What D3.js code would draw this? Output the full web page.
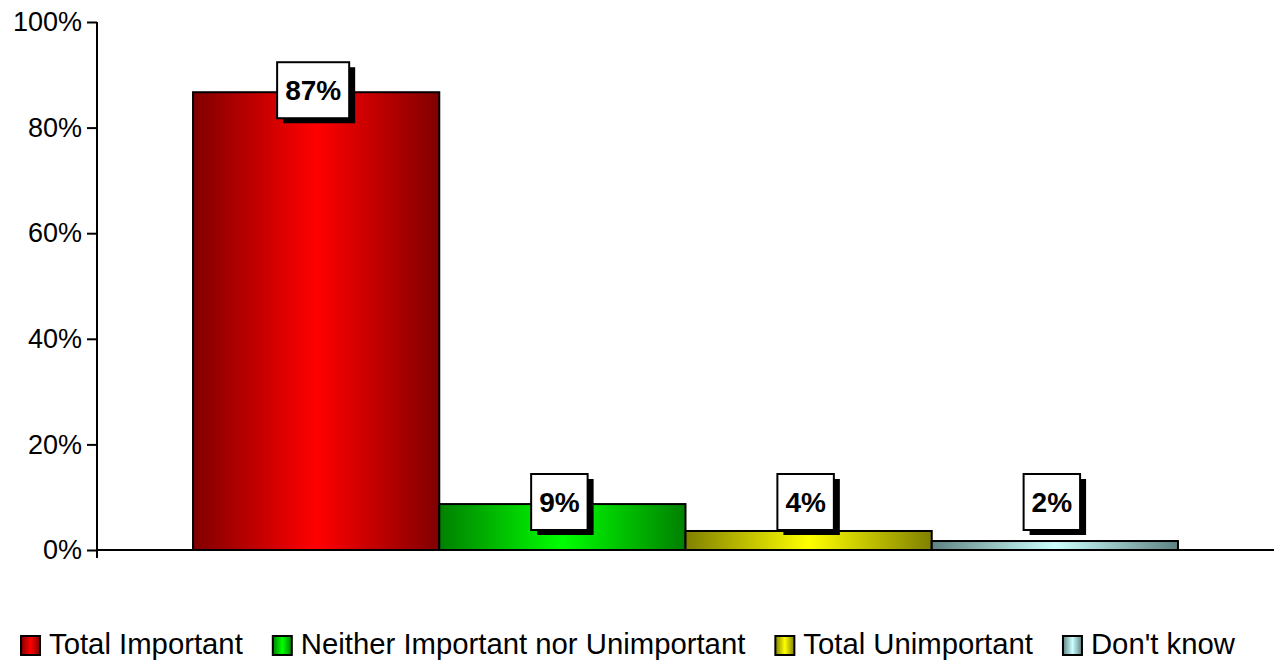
<!DOCTYPE html>
<html>
<head>
<meta charset="utf-8">
<script src="https://cdn.jsdelivr.net/npm/d3@7/dist/d3.min.js"></script>
<style>
  html, body { margin: 0; padding: 0; background: #fff; }
  svg { display: block; font-family: "Liberation Sans", Arial, sans-serif; }
</style>
</head>
<body>
<svg id="chart" width="1276" height="661"></svg>
<script>
const series = ["Total Important", "Neither Important nor Unimportant", "Total Unimportant", "Don't know"];
const values = [0.867, 0.087, 0.036, 0.017];
const yTicks = [0, 0.2, 0.4, 0.6, 0.8, 1.0];
const edgeColors = ["#800000", "#008000", "#808000", "#5f8282"];
const centerColors = ["#ff0000", "#00ff00", "#ffff00", "#ccffff"];

const svg = d3.select("#chart");
const plot = { left: 97, right: 1274, top: 22, bottom: 550 };

const x = d3.scaleBand().domain(series).range([plot.left, plot.right]).paddingInner(0).paddingOuter(0.39);
const y = d3.scaleLinear().domain([0, 1]).range([plot.bottom, plot.top]);

const defs = svg.append("defs");
series.forEach((s, i) => {
  const g = defs.append("linearGradient").attr("id", "grad" + i)
    .attr("x1", "0%").attr("x2", "100%").attr("y1", "0%").attr("y2", "0%");
  g.append("stop").attr("offset", "0%").attr("stop-color", edgeColors[i]);
  g.append("stop").attr("offset", "50%").attr("stop-color", centerColors[i]);
  g.append("stop").attr("offset", "100%").attr("stop-color", edgeColors[i]);
});

// Bars
svg.append("g").selectAll("rect").data(series).join("rect")
  .attr("x", d => x(d))
  .attr("y", (d, i) => y(values[i]))
  .attr("width", x.bandwidth())
  .attr("height", (d, i) => y(0) - y(values[i]))
  .attr("fill", (d, i) => `url(#grad${i})`)
  .attr("stroke", "#000")
  .attr("stroke-width", 2);

// Axes
const yAxis = d3.axisLeft(y).tickValues(yTicks).tickFormat(d3.format(".0%")).tickSize(10).tickPadding(5);
const ya = svg.append("g").attr("transform", `translate(${plot.left},0)`).call(yAxis);
ya.select(".domain").remove();
ya.selectAll(".tick line").attr("stroke", "#000").attr("stroke-width", 2);
ya.selectAll(".tick text").attr("font-size", 27).attr("fill", "#000")
  .attr("font-family", "'Liberation Sans', Arial, sans-serif");

svg.append("line").attr("x1", plot.left).attr("x2", plot.left)
  .attr("y1", plot.top).attr("y2", plot.bottom + 8)
  .attr("stroke", "#000").attr("stroke-width", 2);
svg.append("line").attr("x1", plot.left).attr("x2", plot.right)
  .attr("y1", y(0)).attr("y2", y(0))
  .attr("stroke", "#000").attr("stroke-width", 2);

// Data labels
const fmt = d3.format(".0%");
const lg = svg.append("g");
series.forEach((s, i) => {
  const cx = x(s) + x.bandwidth() / 2 - 3;
  const cy = Math.min(y(values[i]) - 2, y(0) - 48);
  const t = lg.append("text").text(fmt(values[i]))
    .attr("font-size", 28).attr("font-weight", "bold")
    .attr("text-anchor", "middle").attr("x", cx).attr("y", cy).attr("dy", "0.35em");
  const tw = t.node().getComputedTextLength();
  const bw = tw + 16, bh = 56;
  lg.insert("rect", "text").attr("x", cx - bw / 2 + 6).attr("y", cy - bh / 2 + 5)
    .attr("width", bw).attr("height", bh).attr("fill", "#000");
  lg.insert("rect", "text").attr("x", cx - bw / 2).attr("y", cy - bh / 2)
    .attr("width", bw).attr("height", bh).attr("fill", "#fff")
    .attr("stroke", "#000").attr("stroke-width", 2);
});

// Legend
const leg = svg.append("g");
let cursor = 0;
series.forEach((s, i) => {
  const g = leg.append("g");
  g.append("rect").attr("x", 0).attr("y", 636).attr("width", 19).attr("height", 19)
    .attr("fill", `url(#grad${i})`).attr("stroke", "#000").attr("stroke-width", 2);
  const t = g.append("text").text(s).attr("x", 28).attr("y", 654).attr("font-size", 29.3);
  const w = 28 + t.node().getComputedTextLength();
  g.attr("transform", `translate(${cursor},0)`);
  cursor += w + 30;
});
const total = cursor - 30;
leg.attr("transform", `translate(${628 - total / 2},0)`);
</script>
</body>
</html>
